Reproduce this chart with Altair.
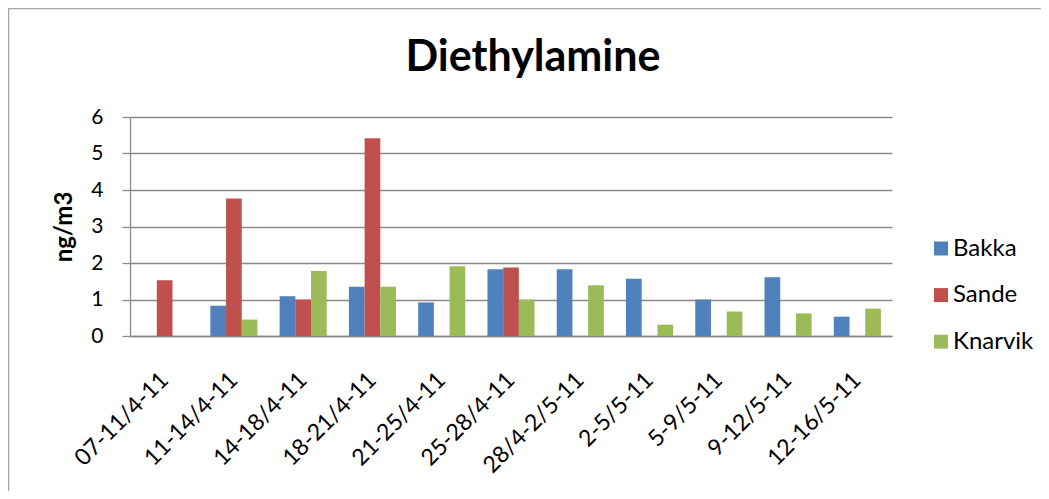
import altair as alt
import pandas as pd

periods = ["07-11/4-11", "11-14/4-11", "14-18/4-11", "18-21/4-11", "21-25/4-11",
           "25-28/4-11", "28/4-2/5-11", "2-5/5-11", "5-9/5-11", "9-12/5-11", "12-16/5-11"]
bakka = [None, 0.83, 1.09, 1.35, 0.92, 1.83, 1.83, 1.57, 1.00, 1.61, 0.53]
sande = [1.53, 3.77, 1.00, 5.42, None, 1.88, None, None, None, None, None]
knarvik = [None, 0.45, 1.78, 1.35, 1.91, 1.00, 1.39, 0.31, 0.67, 0.62, 0.75]
sites = ["Bakka", "Sande", "Knarvik"]
colors = ["#4F81BD", "#C0504D", "#9BBB59"]
y_ticks = [0, 1, 2, 3, 4, 5, 6]

rows = []
for site, vals in zip(sites, [bakka, sande, knarvik]):
    for p, v in zip(periods, vals):
        rows.append({"period": p, "site": site, "value": v})
df = pd.DataFrame(rows)

FONT = "Lato"
GRAY = "#8a8a8a"

frame = alt.Chart(pd.DataFrame({"f": [0]})).mark_rect(
    fill="white", fillOpacity=0, stroke="#a6a6a6", strokeWidth=1.5, clip=False
).encode(
    x=alt.value(-121.5), x2=alt.value(1000), y=alt.value(-108.5), y2=alt.value(500)
)

bars = alt.Chart(df).mark_bar().encode(
    x=alt.X("period:N", sort=periods, title=None,
            scale=alt.Scale(paddingInner=0.32, paddingOuter=0.16),
            axis=alt.Axis(labelAngle=-45, labelFontSize=23, labelFont=FONT,
                          labelColor="black", labelPadding=40, ticks=False,
                          labelAlign="right", labelBaseline="middle",
                          domainColor=GRAY, domainWidth=1.3, labelOverlap=False)),
    xOffset=alt.XOffset("site:N", sort=sites, scale=alt.Scale(domain=sites)),
    y=alt.Y("value:Q", title="ng/m3", scale=alt.Scale(domain=[0, 6]),
            axis=alt.Axis(values=y_ticks, tickSize=8, tickColor=GRAY, tickWidth=1.3,
                          labelPadding=19,
                          labelFontSize=21, labelFont=FONT, labelColor="black",
                          domainColor=GRAY, domainWidth=1.3, gridColor=GRAY, gridWidth=1.3,
                          titleFont=FONT, titleFontSize=24, titleFontWeight="bold",
                          titleColor="black", titleX=-66, titleY=109.5,
                          titleAngle=270, titleAlign="center", titleBaseline="middle")),
    color=alt.Color("site:N", sort=sites,
                    scale=alt.Scale(domain=sites, range=colors),
                    legend=alt.Legend(title=None, orient="none", legendX=799, legendY=119.5,
                                      labelFont=FONT, labelFontSize=24, labelColor="black",
                                      symbolType="square", symbolSize=196,
                                      symbolStrokeWidth=0, rowPadding=22.6,
                                      labelOffset=0, padding=0)),
)

chart = alt.layer(frame, bars).properties(
    width=762,
    height=219,
    autosize="none",
    padding={"left": 122, "top": 109, "right": 149, "bottom": 155},
    title=alt.TitleParams("Diethylamine", font=FONT, fontSize=43, fontWeight="bold",
                          color="black", anchor="middle", frame="group",
                          baseline="alphabetic", offset=-106, dx=22),
).configure_view(stroke="transparent")

chart.save("out.html", embed_options={"renderer": "svg", "actions": False})
